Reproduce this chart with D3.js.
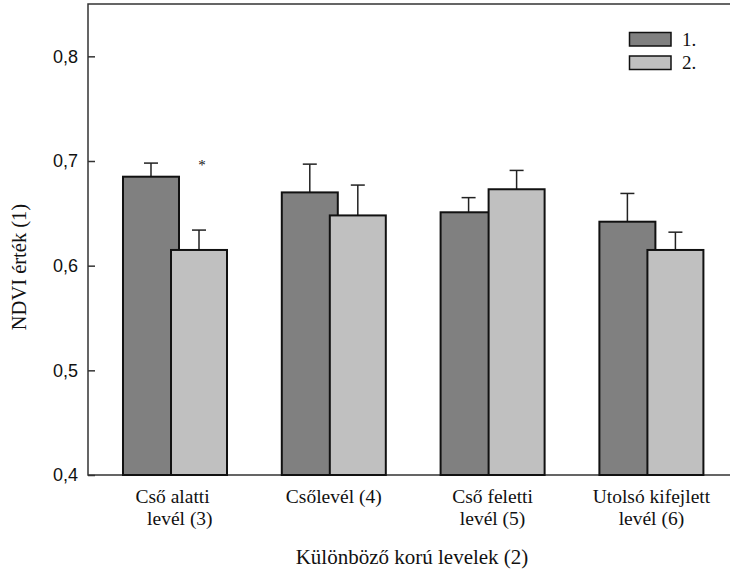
<!DOCTYPE html>
<html>
<head>
<meta charset="utf-8">
<script src="https://cdn.jsdelivr.net/npm/d3@7"></script>
<style>
  body { margin: 0; background: #fff; }
</style>
</head>
<body>
<script>
// leaf groups (x categories), label lines for each
var categories = ["Cső alatti levél (3)", "Csőlevél (4)", "Cső feletti levél (5)", "Utolsó kifejlett levél (6)"];
var categoryLines = [["Cső alatti ", "  levél (3)"], ["Csőlevél (4)"], ["Cső feletti", "levél (5)"], ["Utolsó kifejlett", "levél (6)"]];

// two measurement series
var seriesNames = ["1.", "2."];
var seriesColors = ["#808080", "#c0c0c0"];
var values1 = [0.685, 0.670, 0.651, 0.642];
var errors1 = [0.013, 0.027, 0.014, 0.027];
var values2 = [0.615, 0.648, 0.673, 0.615];
var errors2 = [0.019, 0.029, 0.018, 0.017];

// significance marks above series 2
var marks = ["*", "", "", ""];
var markLevel = 0.691;

var yTicks = [0.4, 0.5, 0.6, 0.7, 0.8];

var width = 730, height = 576;
var frameLeft = 88, frameTop = 4, frameBottom = 475;
var barW = 56;
var serif = "'Liberation Serif', 'Times New Roman', Times, serif";
var sans = "'Liberation Sans', Arial, Helvetica, sans-serif";

var svg = d3.select("body").append("svg")
    .attr("width", width)
    .attr("height", height);

var y = d3.scaleLinear()
    .domain([0.4, 0.85])
    .range([frameBottom, frameTop]);

var x = d3.scaleBand()
    .domain(categories)
    .range([95.6, 730.8])
    .paddingInner(0.345)
    .paddingOuter(0.1725);

var xs = d3.scalePoint()
    .domain(seriesNames)
    .range([0, x.bandwidth() - barW]);

var series = [
    { name: seriesNames[0], color: seriesColors[0], values: values1, errors: errors1 },
    { name: seriesNames[1], color: seriesColors[1], values: values2, errors: errors2 }
];

// frame (top, left, bottom; right side runs off the picture)
svg.append("path")
    .attr("d", "M" + 745 + "," + frameTop + "H" + frameLeft + "V" + frameBottom + "H" + 745)
    .attr("fill", "none")
    .attr("stroke", "#333")
    .attr("stroke-width", 1.5);

// y axis, ticks pointing inward
var yAxis = svg.append("g")
    .attr("transform", "translate(" + frameLeft + ",0)")
    .call(d3.axisRight(y).tickValues(yTicks).tickSize(7).tickFormat(function(d) { return d3.format(".1f")(d).replace(".", ","); }));
yAxis.select(".domain").remove();
yAxis.attr("font-family", sans).attr("font-size", 18);
yAxis.selectAll(".tick line").attr("stroke", "#333").attr("stroke-width", 1.5);
yAxis.selectAll(".tick text")
    .attr("x", -10)
    .attr("text-anchor", "end")
    .attr("fill", "#111");

// bars with error bars, series 2 drawn over series 1
series.forEach(function(s) {
    var g = svg.append("g");
    categories.forEach(function(c, i) {
        var x0 = x(c) + xs(s.name);
        var cx = x0 + barW / 2;
        var top = y(s.values[i] + s.errors[i]);
        g.append("line")
            .attr("x1", cx).attr("x2", cx)
            .attr("y1", y(s.values[i])).attr("y2", top)
            .attr("stroke", "#222").attr("stroke-width", 1.5);
        g.append("line")
            .attr("x1", cx - 7).attr("x2", cx + 7)
            .attr("y1", top).attr("y2", top)
            .attr("stroke", "#222").attr("stroke-width", 1.5);
        g.append("rect")
            .attr("x", x0)
            .attr("y", y(s.values[i]))
            .attr("width", barW)
            .attr("height", y(0.4) - y(s.values[i]))
            .attr("fill", s.color)
            .attr("stroke", "#111")
            .attr("stroke-width", 2);
    });
});

// significance marks
categories.forEach(function(c, i) {
    if (!marks[i]) return;
    svg.append("text")
        .attr("font-family", serif)
        .attr("x", x(c) + xs(seriesNames[1]) + barW / 2 + 3)
        .attr("y", y(markLevel))
        .attr("text-anchor", "middle")
        .attr("font-size", 15)
        .attr("fill", "#111")
        .text(marks[i]);
});

// category labels
categories.forEach(function(c, i) {
    var t = svg.append("text")
        .attr("font-family", serif)
        .attr("text-anchor", "middle")
        .attr("font-size", 19.5)
        .attr("fill", "#111")
        .style("white-space", "pre");
    categoryLines[i].forEach(function(line, j) {
        t.append("tspan")
            .attr("x", x(c) + x.bandwidth() / 2)
            .attr("y", 503 + j * 22)
            .text(line);
    });
});

// axis titles
svg.append("text")
    .attr("font-family", serif)
    .attr("x", 412)
    .attr("y", 564)
    .attr("text-anchor", "middle")
    .attr("font-size", 21)
    .attr("fill", "#111")
    .text("Különböző korú levelek (2)");

svg.append("text")
    .attr("font-family", serif)
    .attr("transform", "translate(26,267) rotate(-90)")
    .attr("text-anchor", "middle")
    .attr("font-size", 20.5)
    .attr("fill", "#111")
    .text("NDVI érték (1)");

// legend
var legend = svg.append("g");
seriesNames.forEach(function(name, i) {
    legend.append("rect")
        .attr("x", 629.5)
        .attr("y", 32.5 + i * 23.5)
        .attr("width", 41.5)
        .attr("height", 13.5)
        .attr("fill", seriesColors[i])
        .attr("stroke", "#111")
        .attr("stroke-width", 1.5);
    legend.append("text")
        .attr("font-family", serif)
        .attr("x", 682)
        .attr("y", 45.5 + i * 23.5)
        .attr("font-size", 19)
        .attr("fill", "#111")
        .text(name);
});
</script>
</body>
</html>
